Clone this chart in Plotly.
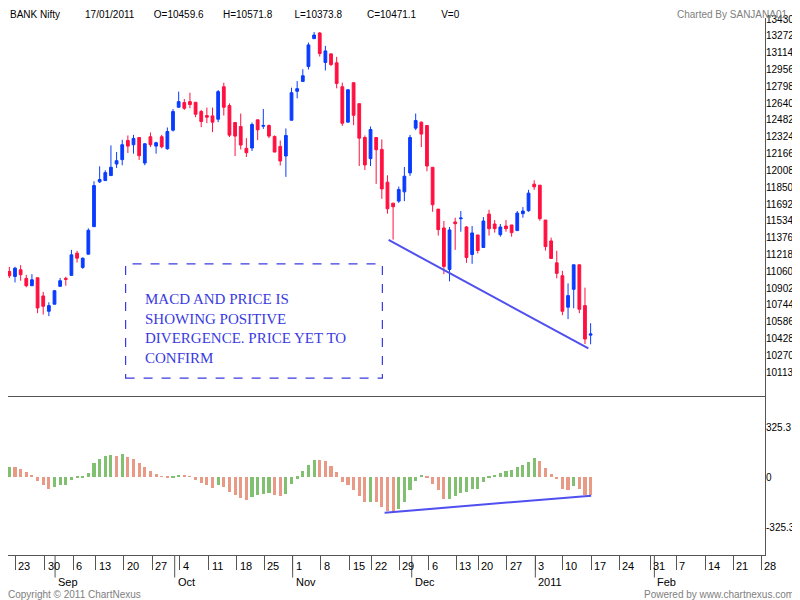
import plotly.graph_objects as go

# candle index (trading days, Aug 23 2010 = 0)
idx = list(range(-1, 103))

opens = [11058, 11011, 11074, 10993, 10924, 10999, 10828, 10684, 10750, 10918,
         10993, 11021, 11230, 11096, 11220, 11479, 11900, 11912, 11959, 12068,
         12109, 12289, 12249, 12317, 12077, 12324, 12236, 12324, 12211, 12386,
         12601, 12645, 12654, 12648, 12561, 12523, 12520, 12489, 12794, 12617,
         12458, 12420, 12215, 12218, 12483, 12423, 12430, 12327, 12233, 12143,
         12479, 12751, 12844, 12984, 13246, 13299, 13022, 13103, 13019, 12794,
         12461, 12832, 12635, 12317, 12118, 12317, 12205, 11897, 11700, 11719,
         11806, 11984, 12405, 12461, 12430, 12037, 11644, 11467, 11077, 11523,
         11554, 11476, 11217, 11401, 11283, 11597, 11504, 11404, 11485, 11495,
         11442, 11601, 11629, 11878, 11869, 11541, 11345, 11139, 11018, 10722,
         10890, 11121, 10737, 10459.6]
highs = [11102, 11102, 11117, 11027, 11033, 10999, 10865, 10768, 10884, 10996,
         11008, 11261, 11252, 11189, 11463, 11906, 12046, 12009, 12243, 12180,
         12296, 12336, 12342, 12317, 12264, 12364, 12277, 12342, 12411, 12585,
         12748, 12679, 12738, 12648, 12576, 12598, 12598, 12763, 12832, 12638,
         12458, 12542, 12311, 12458, 12483, 12585, 12439, 12336, 12289, 12402,
         12785, 12847, 12959, 13209, 13308, 13308, 13178, 13103, 13075, 12832,
         12766, 12832, 12635, 12336, 12420, 12317, 12299, 11962, 11700, 11856,
         12040, 12342, 12542, 12467, 12430, 12037, 11644, 11532, 11476, 11563,
         11626, 11485, 11485, 11401, 11569, 11638, 11541, 11504, 11541, 11495,
         11626, 11663, 11825, 11915, 11869, 11541, 11376, 11252, 11064, 10946,
         11121, 11121, 10906, 10571.8]
lows = [10996, 10955, 10971, 10909, 10924, 10666, 10653, 10638, 10750, 10918,
        10924, 11021, 11142, 11083, 11220, 11479, 11890, 11912, 11959, 12031,
        12056, 12171, 12165, 12106, 12056, 12227, 12165, 12215, 12202, 12373,
        12601, 12576, 12592, 12508, 12414, 12451, 12367, 12461, 12523, 12321,
        12143, 12205, 12134, 12190, 12292, 12398, 12311, 12180, 12053, 11947,
        12479, 12685, 12844, 12956, 13246, 13078, 12947, 12988, 12779, 12426,
        12461, 12433, 12049, 12012, 12049, 11881, 11741, 11601, 11358, 11703,
        11719, 11956, 12386, 12227, 12000, 11619, 11395, 11033, 10965, 11261,
        11432, 11139, 11130, 11227, 11283, 11395, 11423, 11385, 11432, 11385,
        11442, 11563, 11619, 11825, 11535, 11255, 11180, 10993, 10647, 10610,
        10712, 10666, 10376, 10373.8]
closes = [11018, 11089, 11027, 10924, 10980, 10715, 10731, 10737, 10877, 10971,
          10984, 11214, 11183, 11183, 11445, 11865, 11922, 11987, 12037, 12099,
          12249, 12236, 12308, 12146, 12258, 12249, 12268, 12230, 12373, 12561,
          12654, 12592, 12626, 12536, 12467, 12508, 12461, 12748, 12601, 12339,
          12330, 12246, 12174, 12439, 12389, 12430, 12330, 12180, 12096, 12336,
          12738, 12776, 12897, 13187, 13280, 13106, 13131, 13003, 12825, 12451,
          12766, 12526, 12311, 12059, 12392, 12202, 11834, 11647, 11666, 11828,
          11953, 12317, 12476, 12349, 12049, 11685, 11451, 11105, 11448, 11507,
          11560, 11189, 11420, 11255, 11532, 11460, 11460, 11476, 11460, 11423,
          11607, 11626, 11794, 11853, 11554, 11292, 11180, 11040, 10684, 10831,
          11121, 10703, 10423, 10471.1]

macd_hist = [67, 66, 54, 30, 15, -28, -54, -76, -67, -54,
             -50, -22, -4, -3, 28, 89, 119, 139, 141, 138,
             148, 132, 119, 89, 67, 41, 22, 2, -9, -4,
             15, 9, 2, -22, -41, -54, -74, -54, -63, -95,
             -115, -134, -152, -132, -119, -108, -105, -115, -126, -108,
             -48, -11, 37, 80, 113, 112, 102, 74, 35, -35,
             -50, -82, -122, -165, -161, -163, -195, -224, -226, -206,
             -165, -87, -28, 7, -4, -43, -87, -143, -141, -122,
             -105, -100, -80, -76, -35, -4, 9, 24, 41, 43,
             63, 80, 100, 124, 106, 61, 22, -15, -78, -87,
             -61, -80, -115, -119]

price_ticks = [10113, 10270, 10428, 10586, 10744, 10902, 11060, 11218, 11376,
               11534, 11692, 11850, 12008, 12166, 12324, 12482, 12640, 12798,
               12956, 13114, 13272, 13430]
macd_ticks = [325.3, 0, -325.3]

day_pos = [0, 5.3, 10.3, 14.3, 19.3, 24.3, 29.2, 34.3, 39.3, 44.2, 49.2, 54.2,
           59.3, 63.2, 68.1, 73.3, 78.2, 82.1, 87.1, 92.2, 97.0, 102.1, 107.1,
           112.6, 117.2, 122.3, 127.3, 132.2]
day_labels = ["23", "30", "6", "13", "20", "27", "4", "11", "18", "25", "1", "8",
              "15", "22", "29", "6", "13", "20", "27", "3", "10", "17", "24",
              "31", "7", "14", "21", "28"]
month_pos = [7.1, 28.3, 49.2, 70.3, 92.2, 113.3]
month_labels = ["Sep", "Oct", "Nov", "Dec", "2011", "Feb"]

BLUE = "#0a3cff"
RED = "#ff1040"
GREEN = "#80c070"
SALMON = "#e99a86"
GREY = "#808080"
FONT = "Liberation Sans, Arial, sans-serif"

hist_colors = [GREEN] + [GREEN if macd_hist[i] > macd_hist[i - 1] else SALMON
                         for i in range(1, len(macd_hist))]

fig = go.Figure()

fig.add_trace(go.Candlestick(
    x=idx, open=opens, high=highs, low=lows, close=closes,
    increasing=dict(line=dict(color=BLUE, width=1), fillcolor=BLUE),
    decreasing=dict(line=dict(color=RED, width=1), fillcolor=RED),
    whiskerwidth=0, xaxis="x", yaxis="y", showlegend=False,
))

fig.add_trace(go.Bar(
    x=idx, y=macd_hist, marker=dict(color=hist_colors, line=dict(width=0)),
    width=0.55, xaxis="x", yaxis="y2", showlegend=False,
))

# divergence lines
fig.add_trace(go.Scatter(x=[66.2, 101.6], y=[11354, 10335], mode="lines",
                         line=dict(color="#5050f0", width=2),
                         xaxis="x", yaxis="y", showlegend=False))
fig.add_trace(go.Scatter(x=[65.5, 102.1], y=[-232, -121], mode="lines",
                         line=dict(color="#5050f0", width=2),
                         xaxis="x", yaxis="y2", showlegend=False))

split = 0.294

# page body adds an 8px offset, so the figure is sized 792x592
fig.update_layout(
    width=792, height=592,
    margin=dict(l=0, r=35, t=10, b=45),
    paper_bgcolor="white", plot_bgcolor="white",
    font=dict(family=FONT, size=11, color="black"),
    bargap=0,
    xaxis=dict(range=[-1.24, 132.9], anchor="y2", showgrid=False, zeroline=False,
               tickvals=day_pos, showticklabels=False, ticks="outside", ticklen=14,
               tickcolor="#555", showline=True, linecolor="#555", mirror=True,
               automargin=False, rangeslider=dict(visible=False)),
    yaxis=dict(domain=[split, 1], range=[9877, 13440], side="right", anchor="x",
               tickvals=price_ticks, ticktext=[str(v) for v in price_ticks],
               showgrid=False, zeroline=False, ticks="", showline=True,
               linecolor="#555", mirror=True, automargin=False,
               ticklabelstandoff=-2, tickfont=dict(size=10)),
    yaxis2=dict(domain=[0, split], range=[-507, 520], side="right", anchor="x",
                tickvals=macd_ticks, ticktext=["325.3", "0", "-325.3"],
                showgrid=False, zeroline=False, ticks="", showline=True,
                linecolor="#555", mirror=True, automargin=False,
                ticklabelstandoff=-2, tickfont=dict(size=10)),
)

anns = []
for p, t in zip(day_pos, day_labels):
    anns.append(dict(x=p, y=-0.005, xref="x", yref="paper", text=t, showarrow=False,
                     xanchor="left", yanchor="top", xshift=1,
                     font=dict(size=11, family=FONT)))
shapes = []
for p, t in zip(month_pos, month_labels):
    anns.append(dict(x=p, y=-0.035, xref="x", yref="paper", text=t, showarrow=False,
                     xanchor="left", yanchor="top", xshift=1,
                     font=dict(size=11, family=FONT)))
    shapes.append(dict(type="line", xref="x", yref="paper", x0=p, x1=p, y0=0,
                       y1=-0.042, line=dict(color="#555", width=1)))

# comment box
shapes.append(dict(type="rect", xref="x", yref="y", x0=19.6, x1=65.1, y0=10055,
                   y1=11130, line=dict(color="#3a3ae0", width=1.2, dash="dash")))
anns.append(dict(x=22.6, y=10890, xref="x", yref="y", xanchor="left", yanchor="top",
                 showarrow=False, align="left",
                 text="MACD AND PRICE IS<br>SHOWING POSITIVE<br>DIVERGENCE. PRICE YET TO<br>CONFIRM",
                 font=dict(family="Liberation Serif, Times New Roman, serif", size=15,
                           color="#3a3ae0")))

header = ("BANK Nifty" + "&nbsp;" * 9 + "17/01/2011" + "&nbsp;" * 7 + "O=10459.6"
          + "&nbsp;" * 7 + "H=10571.8" + "&nbsp;" * 8 + "L=10373.8" + "&nbsp;" * 9
          + "C=10471.1" + "&nbsp;" * 9 + "V=0")
anns.append(dict(x=0.0, y=1.0, xref="paper", yref="paper", xanchor="left",
                 yanchor="bottom", text=header, showarrow=False, yshift=-4,
                 font=dict(size=10, family=FONT)))
anns.append(dict(x=1.0, y=1.0, xref="paper", yref="paper", xanchor="right",
                 yanchor="bottom", text="Charted By SANJANA01", showarrow=False,
                 xshift=24, yshift=-4, font=dict(size=10, family=FONT, color=GREY)))
anns.append(dict(x=0, y=0, xref="paper", yref="paper", xanchor="left", yanchor="bottom",
                 yshift=-47, xshift=-2, text="Copyright © 2011 ChartNexus", showarrow=False,
                 font=dict(size=10, family=FONT, color=GREY)))
anns.append(dict(x=1, y=0, xref="paper", yref="paper", xanchor="right", yanchor="bottom",
                 yshift=-47, xshift=31, text="Powered by www.chartnexus.com", showarrow=False,
                 font=dict(size=10, family=FONT, color=GREY)))

fig.update_layout(annotations=anns, shapes=shapes)

fig.write_html("out.html")
